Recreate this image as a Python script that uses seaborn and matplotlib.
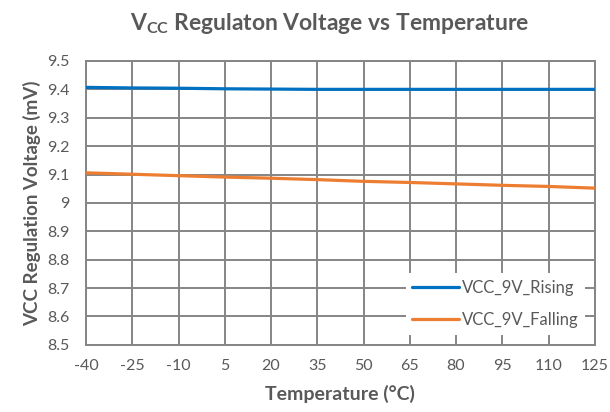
import numpy as np
import pandas as pd
import matplotlib
matplotlib.use('Agg')
import matplotlib.pyplot as plt
import seaborn as sns

# Values
temperature = [-40, -25, -10, 5, 20, 35, 50, 65, 80, 95, 110, 125]
vcc_rising = [9.407, 9.405, 9.404, 9.402, 9.401, 9.400, 9.400, 9.400, 9.400, 9.400, 9.400, 9.400]
vcc_falling = [9.106, 9.101, 9.096, 9.091, 9.087, 9.082, 9.076, 9.072, 9.067, 9.062, 9.058, 9.052]
series_names = ['VCC_9V_Rising', 'VCC_9V_Falling']
series_colors = ['#0070C0', '#ED7D31']
x_ticks = list(range(-40, 126, 15))
y_ticks = [8.5, 8.6, 8.7, 8.8, 8.9, 9.0, 9.1, 9.2, 9.3, 9.4, 9.5]

# Long format table for seaborn
df = pd.DataFrame({
    'Temperature': temperature * 2,
    'Voltage': vcc_rising + vcc_falling,
    'Series': [series_names[0]] * len(temperature) + [series_names[1]] * len(temperature),
})

sns.set_style('white')
plt.rcParams['font.family'] = ['Lato', 'DejaVu Sans']
plt.rcParams['mathtext.fontset'] = 'custom'
plt.rcParams['mathtext.rm'] = 'Lato'
plt.rcParams['mathtext.bf'] = 'Lato:bold'
plt.rcParams['axes.unicode_minus'] = False

text_color = '#595959'
grid_color = '#858585'

fig = plt.figure(figsize=(6.1, 4.12), dpi=100)
ax = fig.add_axes([0.141, 0.163, 0.834, 0.689])

sns.lineplot(data=df, x='Temperature', y='Voltage', hue='Series',
             palette=series_colors, linewidth=2.3, ax=ax, zorder=3)

ax.set_xlim(-40, 125)
ax.set_ylim(8.5, 9.5)
ax.set_xticks(x_ticks)
ax.set_yticks(y_ticks)
ax.set_yticklabels([f'{v:g}' for v in y_ticks])
ax.tick_params(length=0, labelsize=11.5, labelcolor=text_color)
ax.tick_params(axis='x', pad=10)
ax.tick_params(axis='y', pad=12)

ax.grid(True, color=grid_color, linewidth=1.4)
ax.set_axisbelow(True)
for side in ax.spines.values():
    side.set_visible(True)
    side.set_color(grid_color)
    side.set_linewidth(1.4)

ax.set_xlabel('Temperature (°C)', fontsize=14, fontweight='bold', color=text_color, labelpad=9)
ax.set_ylabel('VCC Regulation Voltage (mV)', fontsize=13.5, fontweight='bold', color=text_color, labelpad=4)
fig.text(0.54, 0.942, r'V$_{\mathbf{CC}}$ Regulaton Voltage vs Temperature',
         ha='center', va='center', fontsize=16.5, fontweight='bold', color=text_color)

leg = ax.legend(loc='lower right', frameon=True, fontsize=12, handlelength=2.8,
                handletextpad=0.15, labelspacing=1.0, borderaxespad=0.6,
                borderpad=0.4, fancybox=False)
leg.get_frame().set_facecolor('white')
leg.get_frame().set_edgecolor('none')
leg.get_frame().set_alpha(1)
for text in leg.get_texts():
    text.set_color(text_color)

plt.savefig('out.png', dpi=100)
